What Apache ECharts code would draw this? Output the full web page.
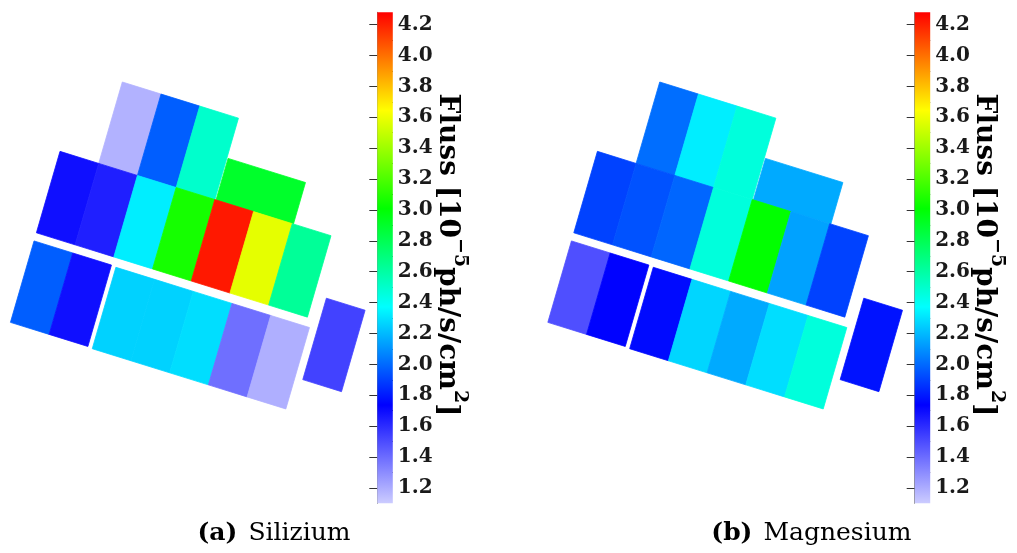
<!DOCTYPE html>
<html>
<head>
<meta charset="utf-8">
<script src="https://cdn.jsdelivr.net/npm/echarts@6/dist/echarts.min.js"></script>
<style>
  html, body { margin: 0; padding: 0; background: #ffffff; }
  #chart { width: 1017px; height: 553px; }
</style>
</head>
<body>
<div id="chart"></div>
<script>
// Detector pixels: column / row position (in pixel units) and span of each pixel.
const pixelCol   = [0, 1, 2, 3.03, -1, 0, 1, 2, 3, 4, 5, -1, 0, 1.12, 2.12, 3.12, 4.12, 5.12, 6.32];
const pixelRow   = [0, 0, 0, 0.49, 1, 1, 1, 1, 1, 1, 1, 2.1, 2.1, 2.11, 2.11, 2.11, 2.11, 2.11, 1.72];
const pixelSpanU = [1, 1, 1, 2, 1, 1, 1, 1, 1, 1, 1, 1, 1, 1, 1, 1, 1, 1, 1];
const pixelSpanV = [1, 1, 1, 0.51, 1, 1, 1, 1, 1, 1, 1, 1, 1, 1, 1, 1, 1, 1, 1];

// Flux per pixel, 10^-5 ph/s/cm^2
const fluxSilicon   = [1.18, 1.97, 2.50, 2.90, 1.69, 1.64, 2.33, 3.06, 4.22, 3.58, 2.63,
                       1.97, 1.69, 2.26, 2.26, 2.29, 1.39, 1.19, 1.53];
const fluxMagnesium = [2.01, 2.33, 2.46, 2.16, 1.90, 1.94, 1.99, 2.46, 3.01, 2.14, 1.90,
                       1.49, 1.74, 1.76, 2.27, 2.16, 2.29, 2.46, 1.78];

const panelNames = ['Silizium', 'Magnesium'];
const panelTags  = ['(a)', '(b)'];

// Colour scale
const scaleRange  = [1.1, 4.28];
const scaleColors = ['#ccccff', '#0000ff', '#00ffff', '#00ff00', '#ffff00', '#ff0000'];
const majorTicks  = ['1.2', '1.4', '1.6', '1.8', '2.0', '2.2', '2.4', '2.6', '2.8', '3.0',
                     '3.2', '3.4', '3.6', '3.8', '4.0', '4.2'];
const minorTicks  = ['1.3', '1.5', '1.7', '1.9', '2.1', '2.3', '2.5', '2.7', '2.9', '3.1',
                     '3.3', '3.5', '3.7', '3.9', '4.1'];

// ---- layout ----
const panelShift = 537.4;              // horizontal offset of the second panel
const origin = [122.33, 82];           // screen position of the detector frame origin
const pxPerX = 40.42, pxPerY = 41.88;  // axis scales (px per unit)
const tilt = 16.72 * Math.PI / 180;    // detector roll angle
const pixelAspect = 2.03;              // pixel height / pixel pitch
const xRange = [-3, 7], yRange = [-1.5, 9.5];
const bar = { left: 377.3, top: 12.3, width: 15.5, height: 491 };
const serif = 'DejaVu Serif';
const ink = '#1a1a1a';

const cosT = Math.cos(tilt), sinT = Math.sin(tilt);
function toPlane(u, v) {
  const vv = v * pixelAspect;
  return [u * cosT - vv * sinT, u * sinT + vv * cosT];
}

function renderPixel(params, api) {
  const u = api.value(0), v = api.value(1), du = api.value(2), dv = api.value(3);
  const pts = [[u, v], [u + du, v], [u + du, v + dv], [u, v + dv]]
    .map(p => api.coord(toPlane(p[0], p[1])));
  const c = api.visual('color');
  return {
    type: 'polygon',
    shape: { points: pts },
    style: { fill: c, stroke: c, lineWidth: 0.8 }
  };
}

function renderBar(params, api) {
  const p0 = api.coord([api.value(0), api.value(3)]);
  const p1 = api.coord([api.value(2), api.value(1)]);
  const stops = scaleColors.map((c, i) => ({ offset: 1 - i / (scaleColors.length - 1), color: c }));
  return {
    type: 'rect',
    shape: { x: p0[0], y: p0[1], width: p1[0] - p0[0], height: p1[1] - p0[1] },
    style: { fill: new echarts.graphic.LinearGradient(0, 0, 0, 1, stops) }
  };
}

const grids = [], xAxes = [], yAxes = [], series = [], graphics = [];
[fluxSilicon, fluxMagnesium].forEach((flux, k) => {
  const dx = k * panelShift;
  // detector grid
  grids.push({
    left: origin[0] + dx + xRange[0] * pxPerX,
    top: origin[1] + yRange[0] * pxPerY,
    width: (xRange[1] - xRange[0]) * pxPerX,
    height: (yRange[1] - yRange[0]) * pxPerY
  });
  xAxes.push({ type: 'value', gridIndex: 2 * k, min: xRange[0], max: xRange[1], show: false });
  yAxes.push({ type: 'value', gridIndex: 2 * k, min: yRange[0], max: yRange[1], inverse: true, show: false });
  series.push({
    type: 'custom', name: panelNames[k], xAxisIndex: 2 * k, yAxisIndex: 3 * k,
    renderItem: renderPixel, clip: false, silent: true,
    data: flux.map((f, i) => [pixelCol[i], pixelRow[i], pixelSpanU[i], pixelSpanV[i], f])
  });

  // colour bar grid
  grids.push({ left: bar.left + dx, top: bar.top, width: bar.width, height: bar.height });
  xAxes.push({ type: 'value', gridIndex: 2 * k + 1, min: 0, max: 1, show: false });
  yAxes.push({
    type: 'value', gridIndex: 2 * k + 1, position: 'right',
    min: scaleRange[0], max: scaleRange[1],
    splitLine: { show: false },
    axisLine: { show: true, lineStyle: { color: '#8a8a8a', width: 1 } },
    axisTick: { show: true, inside: true, length: 8, lineStyle: { color: '#333', width: 1 },
                customValues: majorTicks.map(Number) },
    axisLabel: { show: true, margin: 5, fontFamily: serif, fontWeight: 'bold', fontSize: 20, color: ink,
                 customValues: majorTicks.map(Number), formatter: v => v.toFixed(1) }
  });
  yAxes.push({
    type: 'value', gridIndex: 2 * k + 1, position: 'right',
    min: scaleRange[0], max: scaleRange[1],
    splitLine: { show: false }, axisLine: { show: false }, axisLabel: { show: false },
    axisTick: { show: true, inside: true, length: 5, lineStyle: { color: '#333', width: 1 },
                customValues: minorTicks.map(Number) }
  });
  series.push({
    type: 'custom', xAxisIndex: 2 * k + 1, yAxisIndex: 3 * k + 1,
    renderItem: renderBar, clip: false, silent: true, z: 1,
    data: [[0, scaleRange[0], 1, scaleRange[1]]]
  });

  // colour bar title
  graphics.push({
    type: 'text', x: 451 + dx, y: 255, rotation: -Math.PI / 2,
    style: {
      text: '{b|Fluss [10}{s|−5}{b|ph/s/cm}{s|2}{b|]}',
      align: 'center', verticalAlign: 'middle',
      rich: {
        b: { fontFamily: serif, fontWeight: 'bold', fontSize: 28, color: ink, lineHeight: 36, verticalAlign: 'bottom' },
        s: { fontFamily: serif, fontWeight: 'bold', fontSize: 19, color: ink, lineHeight: 36, verticalAlign: 'top' }
      }
    }
  });
  // panel caption
  graphics.push({
    type: 'text', x: 274 + dx, y: 533,
    style: {
      text: '{b|' + panelTags[k] + '}{r|' + panelNames[k] + '}',
      align: 'center', verticalAlign: 'middle',
      rich: {
        b: { fontFamily: serif, fontWeight: 'bold', fontSize: 25, color: ink, padding: [0, 11, 0, 0] },
        r: { fontFamily: serif, fontSize: 25, color: ink }
      }
    }
  });
});

const chart = echarts.init(document.getElementById('chart'), null, { renderer: 'canvas' });
chart.setOption({
  animation: false,
  backgroundColor: '#ffffff',
  grid: grids,
  xAxis: xAxes,
  yAxis: yAxes,
  visualMap: {
    type: 'continuous', show: false, seriesIndex: [0, 2], dimension: 4,
    min: scaleRange[0], max: scaleRange[1],
    inRange: { color: scaleColors }
  },
  series: series,
  graphic: graphics
});
</script>
</body>
</html>
